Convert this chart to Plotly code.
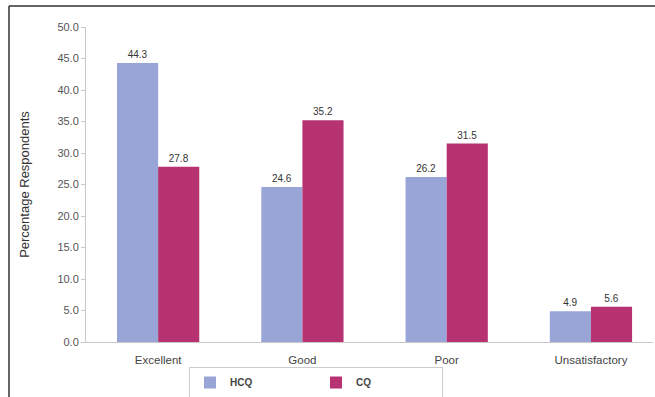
import plotly.graph_objects as go

categories = ["Excellent", "Good", "Poor", "Unsatisfactory"]
hcq = [44.3, 24.6, 26.2, 4.9]
cq = [27.8, 35.2, 31.5, 5.6]
series_names = ["HCQ", "CQ"]
colors = ["#99a5d7", "#b63271"]

W, H = 655, 397
ml, mr, mt, mb = 86, 2, 27, 55
ph = H - mt - mb
pw = W - ml - mr

fig = go.Figure()
for name, vals, col in zip(series_names, [hcq, cq], colors):
    fig.add_trace(go.Bar(
        x=categories, y=vals, name=name,
        marker=dict(color=col, line=dict(width=0)),
        text=[f"{v:.1f}" for v in vals], textposition="outside",
        textfont=dict(size=10, color="#333333"),
        cliponaxis=False,
    ))

fig.update_layout(
    width=W, height=H,
    margin=dict(l=ml, r=mr, t=mt, b=mb, autoexpand=False),
    paper_bgcolor="white", plot_bgcolor="white",
    font=dict(family="Liberation Sans, Arial, sans-serif", color="#333333"),
    barmode="group", bargap=0.43, bargroupgap=0,
    showlegend=True,
    legend=dict(
        orientation="h", x=(316 - ml) / pw, y=(H - mb - 398) / ph,
        xanchor="center", yanchor="bottom",
        bordercolor="#cccccc", borderwidth=1,
        font=dict(size=10, color="#444444", family="Liberation Sans, Arial, sans-serif", weight="bold"),
        entrywidth=81, itemsizing="constant", itemwidth=30,
    ),
    xaxis=dict(
        range=[-0.5, 3.43], showgrid=False, showline=True, linecolor="#c8c8c8",
        linewidth=1, ticks="", tickfont=dict(size=11.5, color="#444444"),
        ticklabelstandoff=7,
    ),
    yaxis=dict(
        range=[0, 50], dtick=5, tickformat=".1f", showgrid=False,
        showline=True, linecolor="#c8c8c8", linewidth=1,
        ticks="outside", ticklen=4, tickcolor="#c8c8c8",
        tickfont=dict(size=11, color="#555555"),
        title=dict(text="Percentage Respondents", font=dict(size=13, color="#333333"), standoff=24),
        zeroline=False,
    ),
)

# outer frame lines (top and left)
fig.add_shape(type="line", xref="paper", yref="paper",
              x0=(9 - ml) / pw, x1=(W + 5 - ml) / pw,
              y0=(H - mb - 6) / ph, y1=(H - mb - 6) / ph,
              line=dict(color="#333333", width=1.5))
fig.add_shape(type="line", xref="paper", yref="paper",
              x0=(9 - ml) / pw, x1=(9 - ml) / pw,
              y0=(H - mb - 6) / ph, y1=(H - mb - H - 10) / ph,
              line=dict(color="#333333", width=1.5))

fig.write_html("out.html")
